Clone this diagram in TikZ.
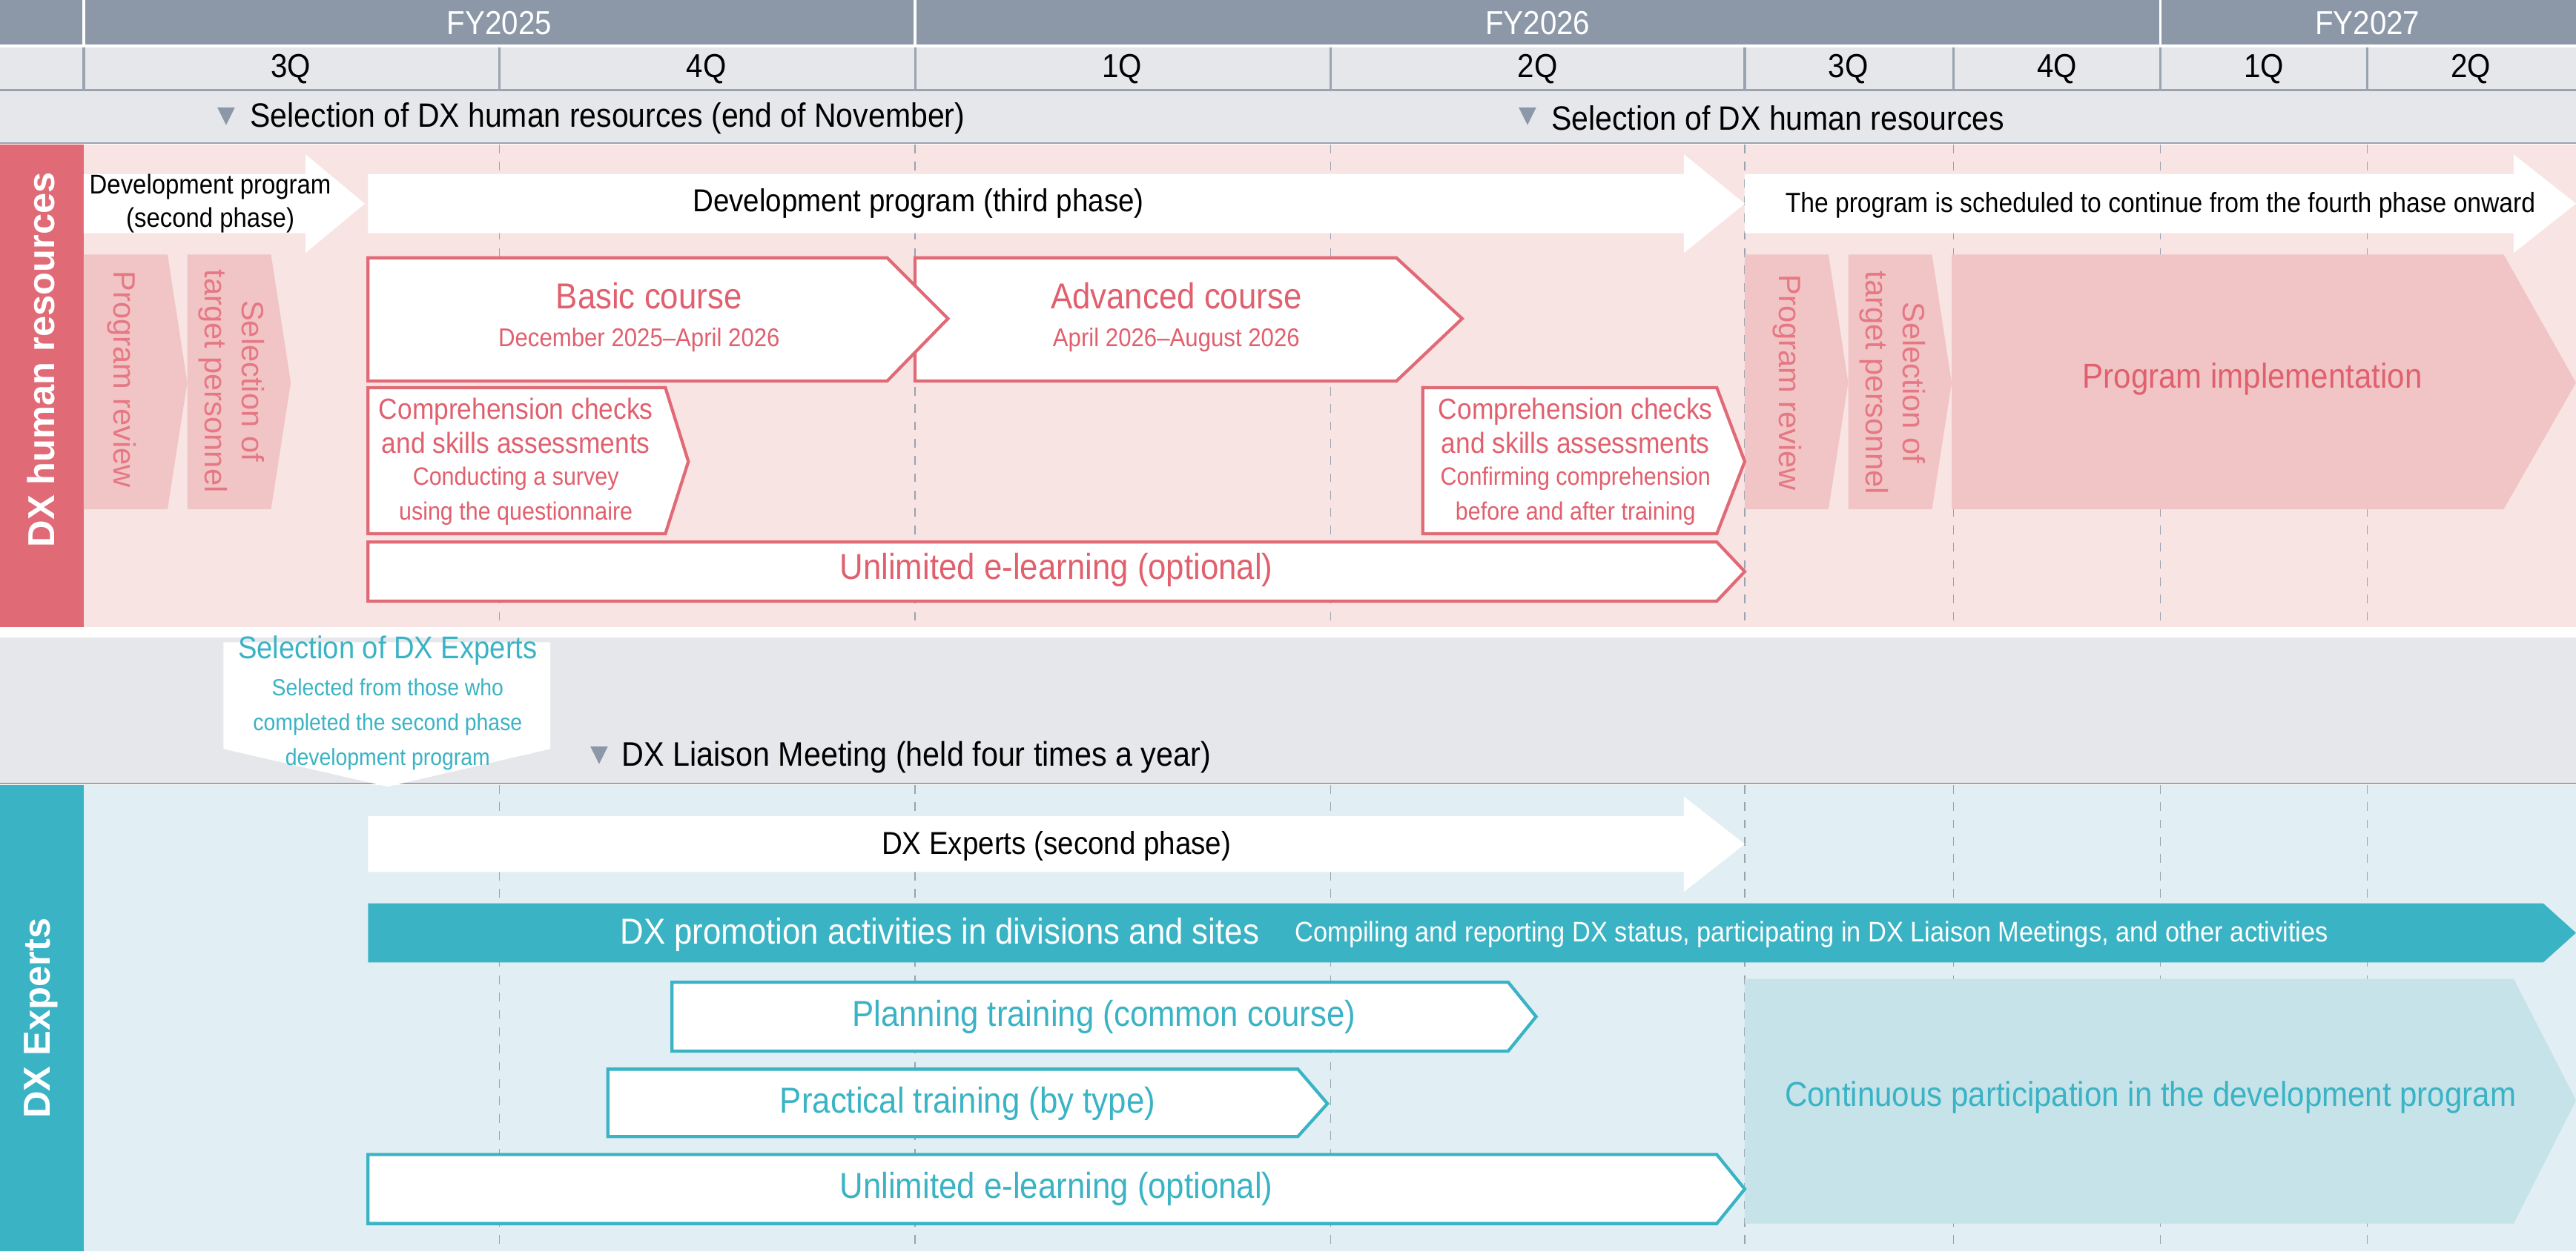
\documentclass[tikz,border=0pt]{standalone}
\usepackage{fontspec}
\setmainfont{Liberation Sans}[FakeStretch=0.9]
\newfontfamily\widefont{Liberation Sans}
\newfontfamily\symfont{DejaVu Sans}
\usetikzlibrary{positioning}

\definecolor{hdark}{HTML}{8C98A8}
\definecolor{hlight}{HTML}{E6E7EB}
\definecolor{hline}{HTML}{9AA3B0}
\definecolor{pinkband}{HTML}{E06B77}
\definecolor{pinktext}{HTML}{E0606E}
\definecolor{pinkbg}{HTML}{F9E4E4}
\definecolor{pinkbox}{HTML}{F1C5C5}
\definecolor{tealband}{HTML}{3AB3C4}
\definecolor{tealbg}{HTML}{E1EEF3}
\definecolor{tealbox}{HTML}{C5E3E9}

\newcommand{\headf}{\fontsize{10.1}{12.5}\selectfont}
\newcommand{\subf}{\fontsize{8.7}{10.2}\selectfont}
\newcommand{\calf}{\fontsize{8.1}{9.4}\selectfont}

\tikzset{
  txt/.style={font=\fontsize{11}{12}\selectfont, inner sep=0pt},
  hdr/.style={font=\fontsize{11.5}{13}\selectfont, inner sep=0pt},
  big/.style={font=\fontsize{12.5}{14}\selectfont, inner sep=0pt},
  sub/.style={font=\fontsize{8.9}{10}\selectfont, inner sep=0pt},
  bar/.style={font=\fontsize{12.5}{14}\selectfont, inner sep=0pt},
  band/.style={font=\widefont\bfseries\fontsize{13}{15}\selectfont, white, rotate=90, inner sep=0pt},
  vert/.style={font=\widefont\fontsize{10.7}{13}\selectfont, pinktext!85, rotate=-90, align=center, inner sep=0pt},
  pinkline/.style={draw=pinkband, line width=1.1pt, fill=white},
  tealline/.style={draw=tealband, line width=1.1pt, fill=white},
  dashline/.style={hline, dashed, line width=0.4pt},
  tri/.style={font=\symfont\fontsize{8}{9}\selectfont, hdark, inner sep=0pt}
}

\begin{document}
\begin{tikzpicture}[x=0.02cm, y=-0.02cm]
\useasboundingbox (0,0) rectangle (1568,762);

% header rows
\fill[hdark] (0,0) rectangle (1568,28);
\fill[hlight] (0,28) rectangle (1568,87);
\draw[white, line width=1pt] (0,28) -- (1568,28);
\foreach \x in {51,557,1315}
  \draw[white, line width=1pt] (\x,0) -- (\x,28);
\foreach \x in {51,304,557,810,1062,1189,1315,1441}
  \draw[hline, line width=0.8pt] (\x,29) -- (\x,55);
\draw[hline, line width=0.8pt] (0,55) -- (1568,55);
\draw[hline, line width=0.6pt] (0,87) -- (1568,87);

\node[hdr, white] (fy25) at (304,14) {FY2025};
\node[hdr, white] (fy26) at (936,14) {FY2026};
\node[hdr, white] (fy27) at (1441,14) {FY2027};
\node[hdr] (q3a) at (177,42) {3Q};
\node[hdr] (q4a) at (430,42) {4Q};
\node[hdr] (q1b) at (683,42) {1Q};
\node[hdr] (q2b) at (936,42) {2Q};
\node[hdr] (q3b) at (1125,42) {3Q};
\node[hdr] (q4b) at (1252,42) {4Q};
\node[hdr] (q1c) at (1378,42) {1Q};
\node[hdr] (q2c) at (1504,42) {2Q};

\node[tri] (mk1) at (138,71) {▼};
\node[txt, anchor=west, font=\fontsize{11.7}{13}\selectfont] (sel1) at (152,72) {Selection of DX human resources (end of November)};
\node[tri] (mk2) at (930,71) {▼};
\node[txt, anchor=west, font=\fontsize{11.7}{13}\selectfont] (sel2) at (944,72) {Selection of DX human resources};

% DX human resources section
\fill[pinkbg] (51,88) rectangle (1568,382);
\fill[pinkband] (0,88) rectangle (51,382);
\fill[white] (0,382) rectangle (1568,388);
\fill[hlight] (0,388) rectangle (1568,477);
\draw[hline, line width=0.6pt] (0,477) -- (1568,477);
\fill[tealbg] (51,478) rectangle (1568,762);
\fill[tealband] (0,478) rectangle (51,762);
\foreach \x in {304,557,810,1062,1189,1315,1441} {
  \draw[dashline] (\x,88) -- (\x,382);
  \draw[dashline] (\x,478) -- (\x,762);
}
\node[band] (hrband) at (25,219) {DX human resources};
\node[band] (exband) at (25,620) {DX Experts};

% development program arrows
\fill[white] (51,106) -- (186,106) -- (186,94) -- (222,124) -- (186,154) -- (186,142) -- (51,142) -- cycle;
\fill[white] (224,106) -- (1025,106) -- (1025,94) -- (1062,124) -- (1025,154) -- (1025,142) -- (224,142) -- cycle;
\fill[white] (1062,106) -- (1530,106) -- (1530,94) -- (1568,124) -- (1530,154) -- (1530,142) -- (1062,142) -- cycle;
\node[txt, align=center, font=\fontsize{9.4}{11.5}\selectfont] (dev2) at (128,124) {Development program\\(second phase)};
\node[txt] (dev3) at (559,124) {Development program (third phase)};
\node[txt, font=\fontsize{9.6}{11}\selectfont] (dev4) at (1315,125) {The program is scheduled to continue from the fourth phase onward};

% review and selection blocks
\fill[pinkbox] (51,155) -- (102,155) -- (114,233) -- (102,310) -- (51,310) -- cycle;
\fill[pinkbox] (114,155) -- (165,155) -- (177,233) -- (165,310) -- (114,310) -- cycle;
\node[vert] (rev1) at (74,231) {Program review};
\node[vert] (tgt1) at (141,232) {Selection of\\target personnel};
\fill[pinkbox] (1062,155) -- (1113,155) -- (1125,233) -- (1113,310) -- (1062,310) -- cycle;
\fill[pinkbox] (1125,155) -- (1176,155) -- (1188,233) -- (1176,310) -- (1125,310) -- cycle;
\fill[pinkbox] (1188,155) -- (1524,155) -- (1568,233) -- (1524,310) -- (1188,310) -- cycle;
\node[vert] (rev2) at (1088,233) {Program review};
\node[vert] (tgt2) at (1152,233) {Selection of\\target personnel};
\node[big, pinktext, font=\fontsize{12}{14}\selectfont] (impl) at (1371,231) {Program implementation};

% courses
\draw[pinkline] (557,157) -- (850,157) -- (890,194) -- (850,232) -- (557,232) -- cycle;
\draw[pinkline] (224,157) -- (540,157) -- (577,194) -- (540,232) -- (224,232) -- cycle;
\node[big, pinktext] (basic) at (395,180) {Basic course};
\node[sub, pinktext] (basicd) at (389,207) {December 2025–April 2026};
\node[big, pinktext] (adv) at (716,180) {Advanced course};
\node[sub, pinktext] (advd) at (716,207) {April 2026–August 2026};

\draw[pinkline] (224,236) -- (405,236) -- (419,281) -- (405,325) -- (224,325) -- cycle;
\node[pinktext, align=center, inner sep=0pt] (chk1) at (314,281)
  {\headf Comprehension checks\\\headf and skills assessments\\[-1pt]
   \subf Conducting a survey\\\subf using the questionnaire};
\draw[pinkline] (866,236) -- (1045,236) -- (1062,281) -- (1045,325) -- (866,325) -- cycle;
\node[pinktext, align=center, inner sep=0pt] (chk2) at (959,281)
  {\headf Comprehension checks\\\headf and skills assessments\\[-1pt]
   \subf Confirming comprehension\\\subf before and after training};

\draw[pinkline] (224,330) -- (1045,330) -- (1062,348) -- (1045,366) -- (224,366) -- cycle;
\node[bar, pinktext] (el1) at (643,347) {Unlimited e-learning (optional)};

% DX experts callout and liaison meeting
\fill[white] (136,391) -- (335,391) -- (335,456) -- (236,479) -- (136,456) -- cycle;
\node[tealband, align=center, inner sep=0pt] (selex) at (236,428)
  {\fontsize{10.9}{12.5}\selectfont Selection of DX Experts\\[1pt]
   \calf Selected from those who\\\calf completed the second phase\\\calf development program};
\node[tri] (mk3) at (365,460) {▼};
\node[txt, anchor=west, font=\fontsize{11.8}{13}\selectfont] (liaison) at (378,461) {DX Liaison Meeting (held four times a year)};

% DX experts section
\fill[white] (224,497) -- (1025,497) -- (1025,485) -- (1062,514) -- (1025,543) -- (1025,531) -- (224,531) -- cycle;
\node[txt] (ex2) at (643,515) {DX Experts (second phase)};

\fill[tealband] (224,550) -- (1548,550) -- (1568,568) -- (1548,586) -- (224,586) -- cycle;
\node[bar, white] (promo) at (572,569) {DX promotion activities in divisions and sites};
\node[white, inner sep=0pt, anchor=west, font=\fontsize{9.8}{11}\selectfont] (promod) at (788,569) {Compiling and reporting DX status, participating in DX Liaison Meetings, and other activities};

\fill[tealbox] (1062,596) -- (1530,596) -- (1568,670) -- (1530,745) -- (1062,745) -- cycle;
\node[tealband, inner sep=0pt, font=\fontsize{12}{14}\selectfont] (cont) at (1309,668) {Continuous participation in the development program};

\draw[tealline] (409,598) -- (918,598) -- (935,619) -- (918,640) -- (409,640) -- cycle;
\node[bar, tealband] (plan) at (672,619) {Planning training (common course)};
\draw[tealline] (370,651) -- (790,651) -- (808,672) -- (790,692) -- (370,692) -- cycle;
\node[bar, tealband] (prac) at (589,672) {Practical training (by type)};
\draw[tealline] (224,703) -- (1045,703) -- (1062,724) -- (1045,745) -- (224,745) -- cycle;
\node[bar, tealband] (el2) at (643,724) {Unlimited e-learning (optional)};

\end{tikzpicture}
\end{document}
